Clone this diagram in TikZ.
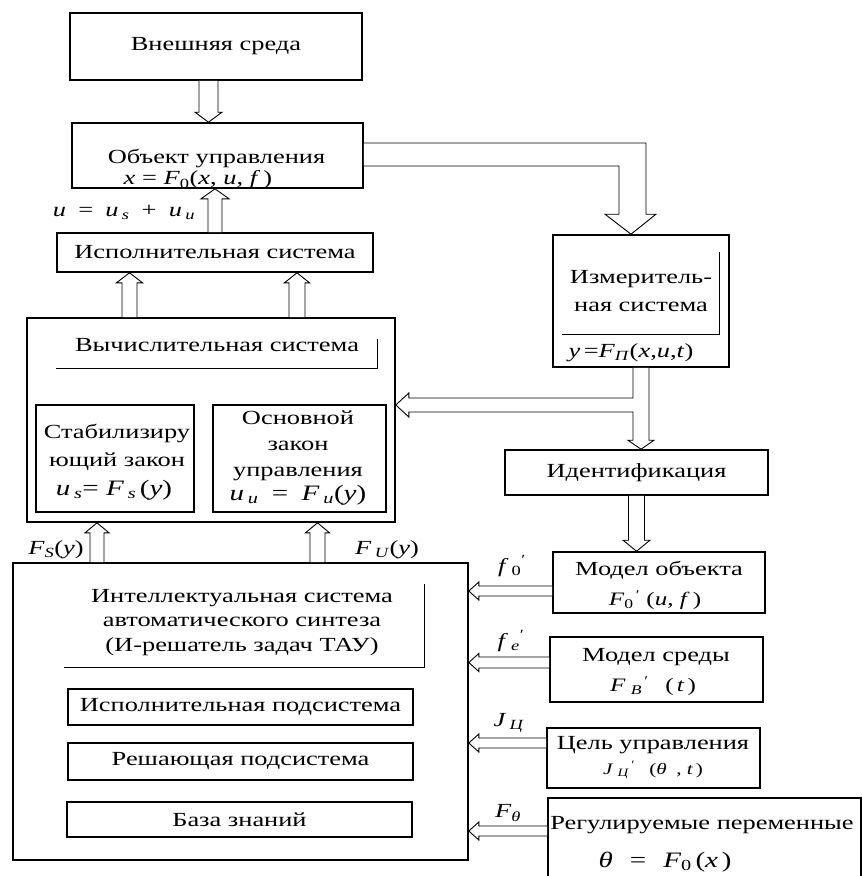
\documentclass[tikz,border=0pt]{standalone}
\usepackage{fontspec}
\setmainfont{Liberation Serif}[FakeStretch=1.32]
\usetikzlibrary{calc}
\newcommand{\mi}[1]{\textit{#1}}
\newcommand{\sbs}[1]{\textsubscript{#1}}
\newcommand{\prm}{\textsuperscript{\,′}}

\begin{document}
\begin{tikzpicture}[x=1pt,y=-1pt,
  font=\fontsize{20}{26}\selectfont,
  box/.style={draw, line width=1.6pt, inner sep=0pt},
  flowline/.style={draw, line width=0.9pt, fill=white, line join=miter},
  rule/.style={draw, line width=1.2pt},
  lbl/.style={inner sep=0pt, align=center},
  small/.style={font=\fontsize{19}{22}\selectfont},
  big/.style={font=\fontsize{22}{26}\selectfont},
  % hollow vertical arrow: shaft half width / head half width / head length
  vflow/.style args={#1/#2/#3}{to path={let \p1=(\tikztostart), \p2=(\tikztotarget),
     \n1={sign(\y2-\y1)} in
     (\x1-#1,\y1) -- (\x1-#1,\y2-\n1*#3) -- (\x1-#2,\y2-\n1*#3) -- (\x1,\y2)
     -- (\x1+#2,\y2-\n1*#3) -- (\x1+#1,\y2-\n1*#3) -- (\x1+#1,\y1)}},
  % hollow horizontal arrow
  hflow/.style args={#1/#2/#3}{to path={let \p1=(\tikztostart), \p2=(\tikztotarget),
     \n1={sign(\x2-\x1)} in
     (\x1,\y1-#1) -- (\x2-\n1*#3,\y1-#1) -- (\x2-\n1*#3,\y1-#2) -- (\x2,\y1)
     -- (\x2-\n1*#3,\y1+#2) -- (\x2-\n1*#3,\y1+#1) -- (\x1,\y1+#1)}},
]
\useasboundingbox (0,0) rectangle (862,876);

% ---------- left column ----------
\node[box, minimum width=292pt, minimum height=67pt] (env) at (216,46.5) {Внешняя среда};

\node[box, minimum width=291pt, minimum height=65pt] (obj) at (217.5,155.5) {};
\node[lbl] (objt) at (216.5,158) {Объект управления};
\node[lbl] (objf) at (198,180) {\mi{x} = \mi{F}\sbs{0}(\mi{x}, \mi{u}, \mi{f}\,)};

\node[lbl] (ulaw) at (124,212) {\mi{u}\; = \;\mi{u}\,\sbs{\mi{s}}\; + \;\mi{u}\,\sbs{\mi{и}}};

\node[box, minimum width=316pt, minimum height=39pt] (isp) at (215,252.5) {Исполнительная система};

\node[box, minimum width=368pt, minimum height=204pt] (comp) at (211,420) {};
\node[lbl] (compt) at (217,345) {Вычислительная система};
\draw[rule] ($(comp.north west)+(30,51)$) -- ++(321,0) -- ++(0,-29);

\node[box, minimum width=158pt, minimum height=107pt] (stab) at (115,458.5) {};
\node[lbl, font=\fontsize{20}{28}\selectfont] (stabt) at (117,447)
  {Стабилизиру\\ющий закон};
\node[lbl, big] (stabf) at (114,490)
  {\mi{u}\,\sbs{\mi{s}}= \mi{F}\,\sbs{\mi{s}}\,(\mi{y})};

\node[box, minimum width=173pt, minimum height=107pt] (mainlaw) at (299.5,458.5) {};
\node[lbl, font=\fontsize{20}{26}\selectfont] (mainlawt) at (298,446)
  {Основной\\закон\\управления};
\node[lbl, big] (mainlawf) at (298,495)
  {\mi{u}\,\sbs{\mi{и}}\; = \;\mi{F}\,\sbs{\mi{и}}(\mi{y})};

\node[box, minimum width=455pt, minimum height=297pt] (intel) at (240.5,711.5) {};
\node[lbl, font=\fontsize{20}{24.5}\selectfont] (intelt) at (242,622.5)
  {Интеллектуальная система\\автоматического синтеза\\(И-решатель задач ТАУ)};
\draw[rule] ($(intel.north west)+(52,105)$) -- ++(360,0) -- ++(0,-83);

\node[box, minimum width=345pt, minimum height=36pt] (sub1) at (240.5,707) {Исполнительная подсистема};
\node[box, minimum width=345pt, minimum height=37pt] (sub2) at (240.5,761.5) {Решающая подсистема};
\node[box, minimum width=345pt, minimum height=35pt] (sub3) at (239.5,819.5) {База знаний};

% ---------- right column ----------
\node[box, minimum width=176pt, minimum height=132pt] (meas) at (641,301) {};
\node[lbl, font=\fontsize{20}{28}\selectfont] (meast) at (641,291) {Измеритель-\\ная система};
\draw[rule] ($(meas.north west)+(10,100)$) -- ++(157,0) -- ++(0,-82);
\node[lbl] (measf) at (631,353) {\mi{y}\,=\mi{F}\sbs{\mi{П}}(\mi{x},\mi{u},\mi{t})};

\node[box, minimum width=263pt, minimum height=45pt] (ident) at (636.5,472.5) {Идентификация};

\node[box, minimum width=212pt, minimum height=61pt] (mobj) at (659,582.5) {};
\node[lbl] (mobjt) at (659,570) {Модел объекта};
\node[lbl, small] (mobjf) at (655,600) {\mi{F}\sbs{0}\prm\,\,(\mi{u}, \mi{f}\,)};

\node[box, minimum width=213pt, minimum height=65pt] (menv) at (656.5,669.5) {};
\node[lbl] (menvt) at (656,657) {Модел среды};
\node[lbl, small] (menvf) at (653,686) {\mi{F}\;\sbs{\mi{В}}\prm\;\; (\,\mi{t}\,)};

\node[box, minimum width=213pt, minimum height=60pt] (goal) at (653.5,758) {};
\node[lbl] (goalt) at (653,745) {Цель управления};
\node[lbl, font=\fontsize{16}{18}\selectfont] (goalf) at (653,770) {\mi{J}\;\sbs{\mi{Ц}}\prm\;\; (\mi{θ}\; , \mi{t}\,)};

\node[box, minimum width=313pt, minimum height=84pt] (reg) at (704.5,840) {};
\node[lbl] (regt) at (702,825) {Регулируемые переменные};
\node[lbl, big] (regf) at (665,862) {\mi{θ}\;\, = \;\,\mi{F}\sbs{0}\,(\mi{x}\,)};

% ---------- signal labels ----------
\node[lbl] (lfs) at (56,550) {\mi{F}\sbs{\mi{S}}(\mi{y})};
\node[lbl] (lfu) at (387,550) {\mi{F}\,\sbs{\mi{U}}(\mi{y})};
\node[lbl] (lf0) at (512,566) {\mi{f}\,\sbs{0}\textsuperscript{′}};
\node[lbl] (lfe) at (511,641) {\mi{f}\,\sbs{\mi{e}}\textsuperscript{′}};
\node[lbl] (ljc) at (509,723) {\mi{J}\,\sbs{\mi{Ц}}};
\node[lbl] (lft) at (508,813) {\mi{F}\sbs{\mi{θ}}};

% ---------- hollow arrows ----------
\draw[flowline, vflow=9.5pt/13.5pt/10pt] ([xshift=-7.5pt]env.south) to (obj.north);
\draw[flowline, vflow=7pt/14pt/10pt] (isp.north) to (obj.south);
\draw[flowline, vflow=7.5pt/13pt/10pt] ([xshift=-81.5pt]comp.north) to (isp.south);
\draw[flowline, vflow=8pt/12.5pt/10pt] ([xshift=86pt]comp.north) to (isp.south);
\draw[flowline, vflow=7pt/12pt/10pt] ([xshift=-143.5pt]intel.north) to (comp.south);
\draw[flowline, vflow=7.5pt/12pt/10pt] ([xshift=77pt]intel.north) to (comp.south);

% object output routed to the measuring system
\draw[flowline] let \p1=(obj.east), \p2=(meas.north) in
  (\x1,\y1+12.5) -- (\x2+5,\y1+12.5) -- (\x2+5,\y2+20) -- (\x2+15,\y2+20) -- (\x2-10,\y2)
  -- (\x2-36,\y2+20) -- (\x2-22,\y2+20) -- (\x2-22,\y1-10.5) -- (\x1,\y1-10.5);

% measurement to identification, with a branch into the computing system
\draw[flowline] let \p1=(meas.south), \p2=(ident.north), \p3=(comp.east) in
  (\x1-8,\y1) -- (\x1-8,\y3+22) -- (\x3+13,\y3+22) -- (\x3+13,\y3+27) -- (\x3,\y3+15)
  -- (\x3+13,\y3+3) -- (\x3+13,\y3+8) -- (\x1-8,\y3+8) -- (\x1-8,\y2+9) -- (\x1-13,\y2+9)
  -- (\x1,\y2) -- (\x1+13,\y2+9) -- (\x1+8,\y2+9) -- (\x1+8,\y1);

\draw[flowline, vflow=8pt/13.5pt/11pt] (ident.south) to (mobj.north);

\draw[flowline, hflow=5pt/9pt/10pt] ([yshift=-8.5pt]mobj.west) to (intel.east);
\draw[flowline, hflow=5.5pt/9pt/10pt] ([yshift=7pt]menv.west) to (intel.east);
\draw[flowline, hflow=5pt/9pt/10pt] ([yshift=15pt]goal.west) to (intel.east);
\draw[flowline, hflow=5pt/9pt/10pt] ([yshift=9pt]reg.west) to (intel.east);
\end{tikzpicture}
\end{document}
